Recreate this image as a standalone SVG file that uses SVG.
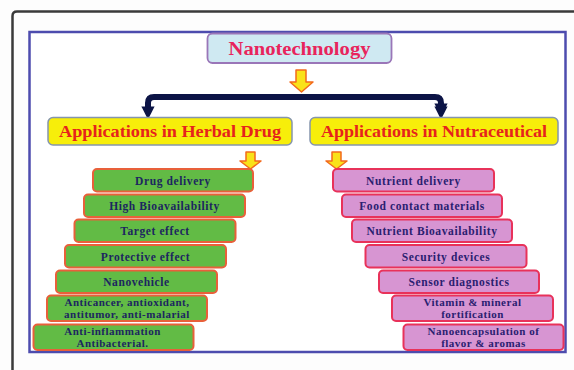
<svg xmlns="http://www.w3.org/2000/svg" width="574" height="370" viewBox="0 0 574 370">
<style>
.t{font-family:"Liberation Serif","Times New Roman",serif;font-weight:bold;text-anchor:middle}
.g rect{fill:#62bb45;stroke:#e8603a;stroke-width:2}
.p rect{fill:#d795d2;stroke:#e8325a;stroke-width:2}
.g text{fill:#1c2660;font-size:11.5px;letter-spacing:0.6px}
.p text{fill:#2a2070;font-size:11.5px;letter-spacing:0.6px}
.g text.s,.p text.s{font-size:11px;letter-spacing:0.5px}
.hdr rect{fill:#f7ee0a;stroke:#8595ad;stroke-width:1.5}
.hdr text{fill:#e6231c;font-size:17px}
.ya{fill:#f9e21a;stroke:#f26a1c;stroke-width:1.5;stroke-linejoin:round}
</style>
<defs>
<marker id="ah" viewBox="0 0 10 10" refX="5" refY="5" markerWidth="2.2" markerHeight="2.2" orient="auto">
<path d="M0,0 L10,5 L0,10 z" fill="#0c1446"/>
</marker>
</defs>
<rect width="574" height="370" fill="#fdfdfd"/>
<g id="frame">
<path d="M12.5,370 V16 Q12.5,11.5 17,11.5 H574" fill="none" stroke="#3a3a3a" stroke-width="2.5"/>
<rect x="29.5" y="32" width="536" height="320" fill="#ffffff" stroke="#4d4cae" stroke-width="2.5"/>
</g>
<g id="connectors">
<path d="M148,110 V103 Q148,97 154,97 H435 Q441,97 441,103 V110" fill="none" stroke="#0c1446" stroke-width="6" marker-end="url(#ah)"/>
<path d="M148,110 V113" fill="none" stroke="#0c1446" stroke-width="6" marker-end="url(#ah)"/>
<path d="M441,110 V113" fill="none" stroke="#0c1446" stroke-width="6" marker-end="url(#ah)"/>
<path class="ya" d="M296,70 H306 V82 H313 L301.5,92 L290,82 H296 Z"/>
<path class="ya" d="M246,152 H255 V161 H261 L250.5,169 L240,161 H246 Z"/>
<path class="ya" d="M332,152 H341 V161 H347 L336.5,169 L326,161 H332 Z"/>
</g>
<g id="nanotechnology">
<rect x="207.5" y="33.5" width="184" height="29.5" rx="5" fill="#cfe9f2" stroke="#9a76b8" stroke-width="1.8"/>
<text class="t" x="299.5" y="54.5" font-size="18" fill="#e8245c" textLength="142" lengthAdjust="spacingAndGlyphs">Nanotechnology</text>
</g>
<g id="herbal" class="hdr">
<rect x="48" y="117.5" width="244" height="27.5" rx="5"/>
<text class="t" x="170" y="137" textLength="222" lengthAdjust="spacingAndGlyphs">Applications in Herbal Drug</text>
</g>
<g id="nutraceutical" class="hdr">
<rect x="310" y="117.5" width="248" height="27.5" rx="5"/>
<text class="t" x="434" y="137" textLength="226" lengthAdjust="spacingAndGlyphs">Applications in Nutraceutical</text>
</g>
<g id="h1" class="g"><rect x="93" y="169" width="160" height="22.5" rx="4"/><text class="t" x="173" y="184.5">Drug delivery</text></g>
<g id="h2" class="g"><rect x="84" y="194.5" width="161" height="22.5" rx="4"/><text class="t" x="164.5" y="210">High Bioavailability</text></g>
<g id="h3" class="g"><rect x="74.5" y="219.5" width="161" height="22.5" rx="4"/><text class="t" x="155" y="235">Target effect</text></g>
<g id="h4" class="g"><rect x="65" y="245" width="161" height="22.5" rx="4"/><text class="t" x="145.5" y="260.5">Protective effect</text></g>
<g id="h5" class="g"><rect x="56" y="270.5" width="161" height="22.5" rx="4"/><text class="t" x="136.5" y="286">Nanovehicle</text></g>
<g id="h6" class="g"><rect x="47" y="295.5" width="160" height="25.5" rx="4"/><text class="t s" x="127" y="306">Anticancer, antioxidant,</text><text class="t s" x="127" y="318">antitumor, anti-malarial</text></g>
<g id="h7" class="g"><rect x="33.5" y="324.5" width="160" height="25.5" rx="4"/><text class="t s" x="112.5" y="335">Anti-inflammation</text><text class="t s" x="112.5" y="347">Antibacterial.</text></g>
<g id="n1" class="p"><rect x="333" y="169" width="161" height="22.5" rx="4"/><text class="t" x="413.5" y="184.5">Nutrient delivery</text></g>
<g id="n2" class="p"><rect x="342" y="194.5" width="160" height="22.5" rx="4"/><text class="t" x="422" y="210">Food contact materials</text></g>
<g id="n3" class="p"><rect x="352" y="219.5" width="160" height="22.5" rx="4"/><text class="t" x="432" y="235">Nutrient Bioavailability</text></g>
<g id="n4" class="p"><rect x="365.5" y="245" width="161" height="22.5" rx="4"/><text class="t" x="446" y="260.5">Security devices</text></g>
<g id="n5" class="p"><rect x="379" y="270.5" width="160" height="22.5" rx="4"/><text class="t" x="459" y="286">Sensor diagnostics</text></g>
<g id="n6" class="p"><rect x="392" y="295.5" width="161" height="25.5" rx="4"/><text class="t s" x="472.5" y="306">Vitamin &amp; mineral</text><text class="t s" x="472.5" y="318">fortification</text></g>
<g id="n7" class="p"><rect x="403.5" y="324.5" width="160" height="25.5" rx="4"/><text class="t s" x="483.5" y="335">Nanoencapsulation of</text><text class="t s" x="483.5" y="347">flavor &amp; aromas</text></g>
</svg>
